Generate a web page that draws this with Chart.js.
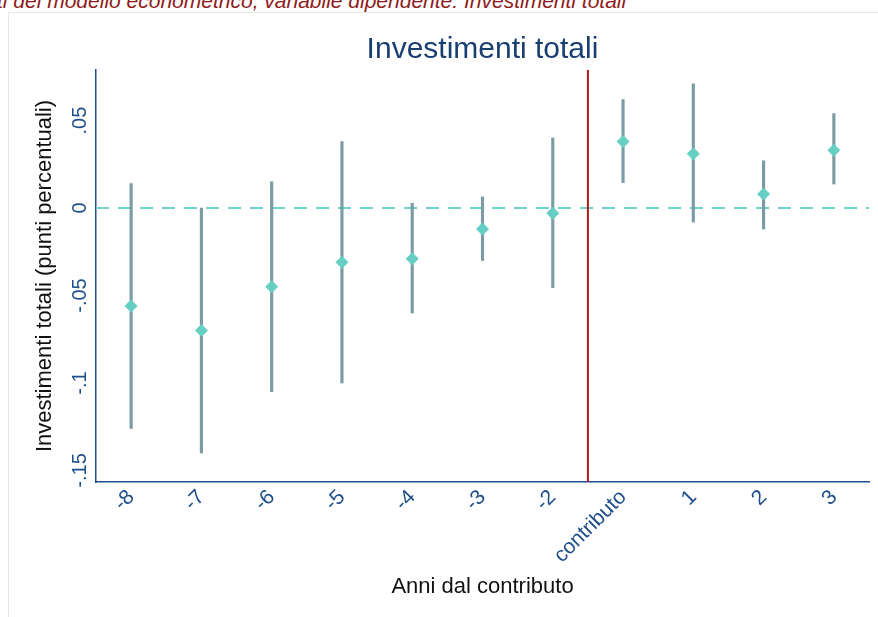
<!DOCTYPE html>
<html>
<head>
<meta charset="utf-8">
<script src="https://cdn.jsdelivr.net/npm/chart.js@4/dist/chart.umd.min.js"></script>
<style>
    html, body { margin: 0; padding: 0; background: #fff; overflow: hidden; }
    body { width: 878px; height: 617px; position: relative; font-family: "Liberation Sans", Arial, sans-serif; }
    #caption { position: absolute; left: -3px; top: -10px; font-size: 21px; line-height: 21px; font-style: italic; color: #8e1b1b; white-space: nowrap; }
    #frame { position: absolute; left: 8px; top: 12px; width: 900px; height: 700px; border: 1px solid #e2e8ec; }
    #chart { position: absolute; left: 0; top: 0; }
</style>
</head>
<body>
<div id="caption">ti del modello econometrico, variabile dipendente: Investimenti totali</div>
<div id="frame"></div>
<canvas id="chart" width="878" height="617"></canvas>
<script>
// Anni dal contributo (asse x)
var anni = ['-8', '-7', '-6', '-5', '-4', '-3', '-2', 'contributo', '1', '2', '3'];
// Coefficienti stimati
var coef = [-0.056, -0.070, -0.045, -0.031, -0.029, -0.012, -0.003, 0.038, 0.031, 0.008, 0.033];
// Intervalli di confidenza
var ciLow = [-0.126, -0.140, -0.105, -0.100, -0.060, -0.030, -0.0455, 0.0145, -0.008, -0.012, 0.0137];
var ciHigh = [0.014, 0.000, 0.015, 0.038, 0.0027, 0.0063, 0.040, 0.062, 0.071, 0.027, 0.054];
// Etichette asse y
var yTicks = [-0.15, -0.1, -0.05, 0, 0.05];
var yTickLabels = ['-.15', '-.1', '-.05', '0', '.05'];

var NAVY = '#1f4f8a';
var FONT = '"Liberation Sans", Arial, sans-serif';

// linee di riferimento, titolo ed etichette y ruotate
var extras = {
    id: 'extras',
    beforeDatasetsDraw: function(chart) {
        var ctx = chart.ctx, a = chart.chartArea;
        var x = chart.scales.x, y = chart.scales.y;
        var y0 = y.getPixelForValue(0);
        ctx.save();
        ctx.strokeStyle = '#6fd5ca';
        ctx.lineWidth = 2;
        ctx.setLineDash([13, 9]);
        ctx.beginPath();
        ctx.moveTo(a.left, y0);
        ctx.lineTo(a.right, y0);
        ctx.stroke();
        ctx.setLineDash([]);
        // linea verticale tra -2 e contributo
        var xr = (x.getPixelForValue(6) + x.getPixelForValue(7)) / 2;
        ctx.strokeStyle = '#b3181d';
        ctx.lineWidth = 2;
        ctx.beginPath();
        ctx.moveTo(xr, a.top);
        ctx.lineTo(xr, a.bottom);
        ctx.stroke();
        ctx.restore();
    },
    afterDraw: function(chart) {
        var ctx = chart.ctx, a = chart.chartArea, y = chart.scales.y;
        ctx.save();
        ctx.fillStyle = '#183f70';
        ctx.font = '30px ' + FONT;
        ctx.textAlign = 'center';
        ctx.textBaseline = 'alphabetic';
        ctx.fillText('Investimenti totali', (a.left + a.right) / 2, 58);
        ctx.font = '20px ' + FONT;
        ctx.fillStyle = NAVY;
        ctx.textBaseline = 'middle';
        yTicks.forEach(function(v, i) {
            ctx.save();
            ctx.translate(80, y.getPixelForValue(v));
            ctx.rotate(-Math.PI / 2);
            ctx.fillText(yTickLabels[i], 0, 0);
            ctx.restore();
        });
        ctx.restore();
    }
};

var ctx = document.getElementById('chart').getContext('2d');
var chart = new Chart(ctx, {
    data: {
        labels: anni,
        datasets: [{
            type: 'line',
            data: coef,
            showLine: false,
            pointStyle: 'rectRot',
            pointRadius: 6,
            pointBackgroundColor: '#66cfc4',
            pointBorderColor: '#66cfc4',
            pointBorderWidth: 1,
            order: 0
        }, {
            type: 'bar',
            data: ciLow.map(function(lo, i) { return [lo, ciHigh[i]]; }),
            backgroundColor: '#7b9ca5',
            borderWidth: 0,
            barThickness: 2.5,
            order: 1
        }]
    },
    options: {
        responsive: false,
        animation: false,
        devicePixelRatio: 1,
        layout: { padding: { top: 70, right: 9, left: 0, bottom: 0 } },
        plugins: { legend: { display: false }, tooltip: { enabled: false } },
        scales: {
            x: {
                type: 'category',
                offset: true,
                grid: { display: false, drawTicks: false },
                border: { color: NAVY, width: 1.5 },
                ticks: {
                    autoSkip: false,
                    minRotation: 45,
                    maxRotation: 45,
                    padding: 3,
                    color: NAVY,
                    font: { family: FONT, size: 21 }
                },
                title: {
                    display: true,
                    text: 'Anni dal contributo',
                    color: '#111',
                    font: { family: FONT, size: 22 },
                    padding: { top: 0, bottom: 17 }
                },
                afterFit: function(s) { s.height = 135; }
            },
            y: {
                min: -0.1566,
                max: 0.0789,
                grid: { display: false, drawTicks: false },
                border: { color: NAVY, width: 1.5 },
                ticks: { display: false },
                afterBuildTicks: function(s) { s.ticks = yTicks.map(function(v) { return { value: v }; }); },
                title: {
                    display: true,
                    text: 'Investimenti totali (punti percentuali)',
                    color: '#111',
                    font: { family: FONT, size: 22 },
                    padding: { top: 32, bottom: 0 }
                },
                afterFit: function(s) { s.width = 96; }
            }
        }
    },
    plugins: [extras]
});
</script>
</body>
</html>
